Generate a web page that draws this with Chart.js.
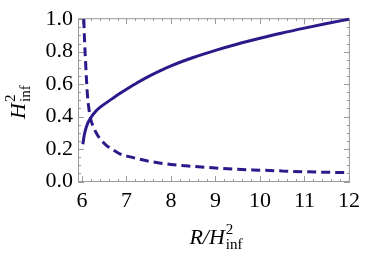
<!DOCTYPE html>
<html>
<head>
<meta charset="utf-8">
<script src="https://cdn.jsdelivr.net/npm/chart.js@4.4.1/dist/chart.umd.min.js"></script>
<style>
  body { margin: 0; background: #fff; }
</style>
</head>
<body>
<canvas id="chart" width="366" height="257"></canvas>
<script>
// values
const xTicks = [6, 7, 8, 9, 10, 11, 12];
const yTicks = [0, 0.2, 0.4, 0.6, 0.8, 1.0];

// solid curve
const solidX = [6.02, 6.05, 6.08, 6.13, 6.19, 6.3, 6.41, 6.55, 6.71, 6.84, 7.0, 7.25, 7.5, 7.75, 8.0, 8.5, 9.0, 9.5, 10.0, 10.5, 11.0, 11.5, 12.0];
const solidY = [0.23, 0.285, 0.32, 0.36, 0.39, 0.43, 0.458, 0.486, 0.516, 0.54, 0.568, 0.61, 0.648, 0.682, 0.713, 0.764, 0.808, 0.847, 0.882, 0.915, 0.945, 0.973, 1.0];

// dashed curve
const dashedX = [6.04, 6.06, 6.08, 6.1, 6.12, 6.15, 6.19, 6.25, 6.34, 6.45, 6.56, 6.7, 6.85, 7.11, 7.5, 8.0, 8.5, 9.0, 9.5, 10.0, 10.5, 11.0, 11.5, 12.0];
const dashedY = [1.0, 0.85, 0.74, 0.63, 0.54, 0.46, 0.39, 0.34, 0.29, 0.25, 0.22, 0.195, 0.17, 0.15, 0.125, 0.105, 0.093, 0.083, 0.075, 0.07, 0.065, 0.06, 0.057, 0.055];

const lineColor = '#2b1a8a';
const serif = '"Liberation Serif", "Times New Roman", serif';

function pts(xs, ys) {
    return xs.map((x, i) => ({ x: x, y: ys[i] }));
}

// draws "pre" followed by a stacked superscript 2 and subscript inf
function drawSymbol(ctx, pre, cx, cy) {
    ctx.save();
    ctx.fillStyle = '#000';
    ctx.textBaseline = 'alphabetic';
    ctx.font = 'italic 22px ' + serif;
    const w1 = ctx.measureText(pre).width;
    ctx.font = '15px ' + serif;
    const w2 = Math.max(ctx.measureText('2').width, ctx.measureText('inf').width);
    let x0 = cx - (w1 + w2 + 1) / 2;
    ctx.font = 'italic 22px ' + serif;
    ctx.fillText(pre, x0, cy + 7);
    ctx.font = '15px ' + serif;
    ctx.fillText('2', x0 + w1 + 1, cy - 3);
    ctx.fillText('inf', x0 + w1 + 1, cy + 12);
    ctx.restore();
}

const framePlugin = {
    id: 'frame',
    beforeDatasetsDraw(chart) {
        const { ctx, chartArea: a, scales: { x, y } } = chart;
        ctx.save();
        ctx.strokeStyle = '#9a9a9a';
        ctx.lineWidth = 1;
        ctx.strokeRect(a.left + 0.5, a.top + 0.5, a.width - 1, a.height - 1);
        ctx.beginPath();
        // x ticks, every 0.2, major at integers
        for (let i = 0; i <= 30; i++) {
            const v = 6 + i * 0.2;
            const px = Math.round(x.getPixelForValue(v)) + 0.5;
            const len = i % 5 === 0 ? 6 : 3;
            ctx.moveTo(px, a.bottom); ctx.lineTo(px, a.bottom - len);
            ctx.moveTo(px, a.top); ctx.lineTo(px, a.top + len);
        }
        // y ticks, every 0.05, major every 0.2
        for (let i = 0; i <= 20; i++) {
            const v = i * 0.05;
            const py = Math.round(y.getPixelForValue(v)) + 0.5;
            const len = i % 4 === 0 ? 6 : 3;
            ctx.moveTo(a.left, py); ctx.lineTo(a.left + len, py);
            ctx.moveTo(a.right, py); ctx.lineTo(a.right - len, py);
        }
        ctx.stroke();
        ctx.restore();
    },
    afterDraw(chart) {
        const { ctx, chartArea: a } = chart;
        // x axis title
        drawSymbol(ctx, 'R/H', (a.left + a.right) / 2 + 2, 237);
        // y axis title, rotated
        ctx.save();
        ctx.translate(18, (a.top + a.bottom) / 2 + 2);
        ctx.rotate(-Math.PI / 2);
        drawSymbol(ctx, 'H', 0, 0);
        ctx.restore();
    }
};

const ctx = document.getElementById('chart').getContext('2d');

const myChart = new Chart(ctx, {
    type: 'scatter',
    data: {
        datasets: [{
            data: pts(solidX, solidY),
            showLine: true,
            borderColor: lineColor,
            borderWidth: 3,
            pointRadius: 0,
            cubicInterpolationMode: 'monotone',
            clip: false
        }, {
            data: pts(dashedX, dashedY),
            showLine: true,
            borderColor: lineColor,
            borderWidth: 3,
            borderDash: [9, 5],
            pointRadius: 0,
            cubicInterpolationMode: 'monotone',
            clip: false
        }]
    },
    options: {
        responsive: false,
        animation: false,
        events: [],
        layout: { padding: { top: 13, right: 11, left: 0, bottom: 0 } },
        plugins: { legend: { display: false }, tooltip: { enabled: false } },
        scales: {
            x: {
                type: 'linear',
                min: 5.91,
                max: 12.02,
                grid: { display: false, drawTicks: false },
                border: { display: false },
                afterBuildTicks: s => { s.ticks = xTicks.map(v => ({ value: v })); },
                afterFit: s => { s.height = 75; },
                ticks: {
                    color: '#000',
                    font: { family: serif, size: 22 },
                    padding: 6,
                    maxRotation: 0,
                    callback: v => String(v)
                }
            },
            y: {
                type: 'linear',
                min: -0.003,
                max: 1.006,
                grid: { display: false, drawTicks: false },
                border: { display: false },
                afterBuildTicks: s => { s.ticks = yTicks.map(v => ({ value: v })); },
                afterFit: s => { s.width = 78; },
                ticks: {
                    color: '#000',
                    font: { family: serif, size: 22 },
                    padding: 5,
                    callback: v => v.toFixed(1)
                }
            }
        }
    },
    plugins: [framePlugin]
});
</script>
</body>
</html>
